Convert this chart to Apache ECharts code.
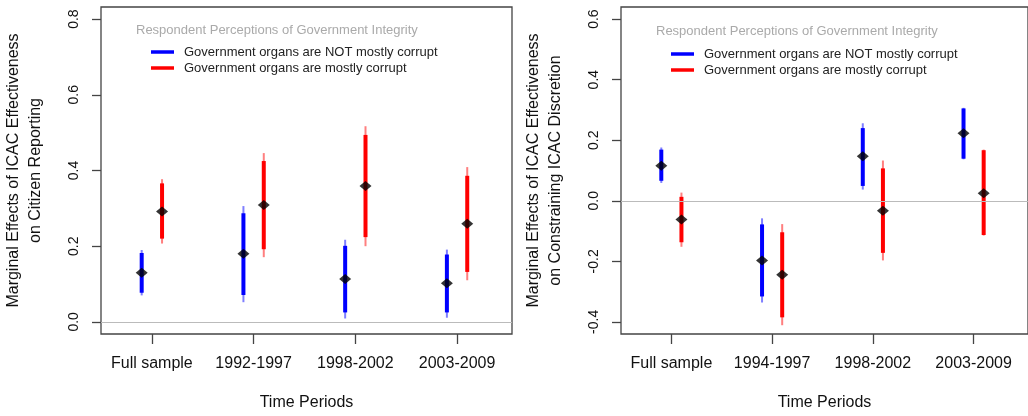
<!DOCTYPE html>
<html>
<head>
<meta charset="utf-8">
<script src="https://cdn.jsdelivr.net/npm/echarts@6/dist/echarts.min.js"></script>
<style>
  html, body { margin: 0; padding: 0; background: #fff; }
  #chart { width: 1028px; height: 416px; }
</style>
</head>
<body>
<div id="chart"></div>
<script>
// categories
const periodsReporting = ["Full sample", "1992-1997", "1998-2002", "2003-2009"];
const periodsDiscretion = ["Full sample", "1994-1997", "1998-2002", "2003-2009"];

// tick labels
const ticksReporting = [0, 0.2, 0.4, 0.6, 0.8];
const ticksDiscretion = [-0.4, -0.2, 0, 0.2, 0.4, 0.6];
const periodTicks = [1, 2, 3, 4];

// panel 1: citizen reporting
const repNotEst = [0.130, 0.180, 0.113, 0.102];
const repNotLo90 = [0.077, 0.071, 0.025, 0.025];
const repNotHi90 = [0.182, 0.287, 0.201, 0.178];
const repNotLo95 = [0.070, 0.052, 0.009, 0.011];
const repNotHi95 = [0.190, 0.306, 0.217, 0.191];
const repCorEst = [0.292, 0.309, 0.359, 0.259];
const repCorLo90 = [0.220, 0.192, 0.224, 0.132];
const repCorHi90 = [0.366, 0.425, 0.494, 0.386];
const repCorLo95 = [0.207, 0.171, 0.200, 0.110];
const repCorHi95 = [0.377, 0.446, 0.517, 0.409];

// panel 2: constraining ICAC discretion
const disNotEst = [0.116, -0.197, 0.147, 0.223];
const disNotLo90 = [0.066, -0.316, 0.049, 0.139];
const disNotHi90 = [0.169, -0.078, 0.240, 0.305];
const disNotLo95 = [0.059, -0.336, 0.037, 0.137];
const disNotHi95 = [0.176, -0.058, 0.256, 0.307];
const disCorEst = [-0.062, -0.244, -0.033, 0.025];
const disCorLo90 = [-0.137, -0.385, -0.172, -0.113];
const disCorHi90 = [0.013, -0.104, 0.107, 0.167];
const disCorLo95 = [-0.152, -0.411, -0.197, -0.115];
const disCorHi95 = [0.027, -0.077, 0.133, 0.169];

const NOT_NAME = "Government organs are NOT mostly corrupt";
const COR_NAME = "Government organs are mostly corrupt";
const FONT = "Liberation Sans";
const AXIS_COLOR = "#444";

function ciData(lo, hi, dx) {
  return lo.map(function (v, i) { return [periodTicks[i] + dx, v, hi[i]]; });
}
function estData(est, dx) {
  return est.map(function (v, i) { return [periodTicks[i] + dx, v]; });
}

function ciSeries(name, idx, lo, hi, dx, color, width) {
  return {
    name: name,
    type: "custom",
    xAxisIndex: idx,
    yAxisIndex: idx,
    itemStyle: { color: color },
    encode: { x: 0, y: [1, 2] },
    data: ciData(lo, hi, dx),
    silent: true,
    renderItem: function (params, api) {
      const p1 = api.coord([api.value(0), api.value(1)]);
      const p2 = api.coord([api.value(0), api.value(2)]);
      return {
        type: "line",
        shape: { x1: p1[0], y1: p1[1], x2: p2[0], y2: p2[1] },
        style: { stroke: color, lineWidth: width }
      };
    }
  };
}

function pointSeries(idx, est, dx) {
  return {
    type: "scatter",
    xAxisIndex: idx,
    yAxisIndex: idx,
    symbol: "diamond",
    symbolSize: [12, 10],
    itemStyle: { color: "#000" },
    data: estData(est, dx),
    silent: true,
    z: 5
  };
}

function zeroLine(idx) {
  return {
    type: "line",
    xAxisIndex: idx,
    yAxisIndex: idx,
    data: [],
    silent: true,
    markLine: {
      silent: true,
      symbol: "none",
      label: { show: false },
      lineStyle: { color: "#bbb", width: 1, type: "solid" },
      data: [{ yAxis: 0 }]
    }
  };
}

function xAxis(idx, labels, max) {
  return {
    type: "value",
    gridIndex: idx,
    min: 0.5,
    max: max,
    axisLine: { show: false, onZero: false },
    splitLine: { show: false },
    axisTick: { show: true, length: 10, customValues: periodTicks, lineStyle: { color: AXIS_COLOR, width: 1.3 } },
    axisLabel: {
      customValues: periodTicks,
      margin: 22,
      fontSize: 16,
      color: "#111",
      formatter: function (v) { return labels[Math.round(v) - 1]; }
    },
    name: "Time Periods",
    nameLocation: "middle",
    nameGap: 61,
    nameTextStyle: { fontSize: 16, color: "#111" }
  };
}

function yAxis(idx, ticks, min, max, name) {
  return {
    type: "value",
    gridIndex: idx,
    min: min,
    max: max,
    axisLine: { show: false, onZero: false },
    splitLine: { show: false },
    axisTick: { show: true, length: 9, customValues: ticks, lineStyle: { color: AXIS_COLOR, width: 1.3 } },
    axisLabel: {
      customValues: ticks,
      rotate: 90,
      margin: 20,
      fontSize: 14,
      color: "#111",
      formatter: function (v) { return v.toFixed(1); }
    },
    name: name,
    nameLocation: "middle",
    nameRotate: 90,
    nameGap: 55,
    nameTextStyle: { fontSize: 16, color: "#111", lineHeight: 21.7, align: "center" }
  };
}

function legend(left, top) {
  return {
    left: left,
    top: top,
    orient: "vertical",
    padding: 0,
    itemGap: 0,
    itemWidth: 23,
    itemHeight: 3.5,
    icon: "rect",
    selectedMode: false,
    data: [NOT_NAME, COR_NAME],
    textStyle: { fontSize: 13, color: "#222", lineHeight: 16, padding: [0, 0, 0, 5] }
  };
}

function legendTitle(left, top) {
  return {
    text: "Respondent Perceptions of Government Integrity",
    left: left,
    top: top,
    padding: 0,
    textStyle: { fontSize: 13, color: "#aaa", fontWeight: "normal" }
  };
}

const chart = echarts.init(document.getElementById("chart"), null, { renderer: "canvas" });

const option = {
  animation: false,
  backgroundColor: "#fff",
  textStyle: { fontFamily: FONT },
  title: [legendTitle(136, 24), legendTitle(656, 25)],
  legend: [legend(151, 44), legend(671, 46)],
  grid: [
    { left: 101, top: 7, width: 411, height: 329, show: true, borderColor: AXIS_COLOR, borderWidth: 1.3, containLabel: false },
    { left: 621, top: 7, width: 410, height: 330, show: true, borderColor: AXIS_COLOR, borderWidth: 1.3, containLabel: false }
  ],
  xAxis: [
    xAxis(0, periodsReporting, 4.54),
    xAxis(1, periodsDiscretion, 4.54)
  ],
  yAxis: [
    yAxis(0, ticksReporting, -0.032, 0.832, "Marginal Effects of ICAC Effectiveness\non Citizen Reporting"),
    yAxis(1, ticksDiscretion, -0.44, 0.64, "Marginal Effects of ICAC Effectiveness\non Constraining ICAC Discretion")
  ],
  series: [
    zeroLine(0),
    zeroLine(1),
    ciSeries(NOT_NAME, 0, repNotLo90, repNotHi90, -0.1, "#0000ff", 4),
    ciSeries("not95", 0, repNotLo95, repNotHi95, -0.1, "rgba(0,0,255,0.5)", 2),
    ciSeries(COR_NAME, 0, repCorLo90, repCorHi90, 0.1, "#ff0000", 4),
    ciSeries("cor95", 0, repCorLo95, repCorHi95, 0.1, "rgba(255,0,0,0.5)", 2),
    pointSeries(0, repNotEst, -0.1),
    pointSeries(0, repCorEst, 0.1),
    ciSeries(NOT_NAME, 1, disNotLo90, disNotHi90, -0.1, "#0000ff", 4),
    ciSeries("not95", 1, disNotLo95, disNotHi95, -0.1, "rgba(0,0,255,0.5)", 2),
    ciSeries(COR_NAME, 1, disCorLo90, disCorHi90, 0.1, "#ff0000", 4),
    ciSeries("cor95", 1, disCorLo95, disCorHi95, 0.1, "rgba(255,0,0,0.5)", 2),
    pointSeries(1, disNotEst, -0.1),
    pointSeries(1, disCorEst, 0.1)
  ]
};

chart.setOption(option);
</script>
</body>
</html>
